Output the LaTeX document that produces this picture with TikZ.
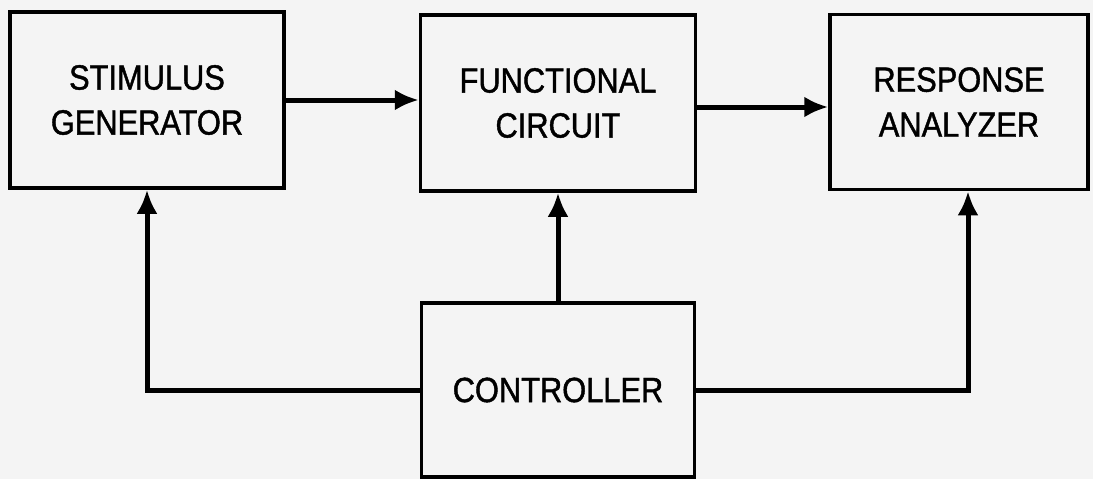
\documentclass[tikz,border=0pt]{standalone}
\usepackage{fontspec}
\setmainfont[FakeStretch=0.88, FakeBold=1.2]{Liberation Sans}
\usetikzlibrary{arrows.meta, calc, positioning}
\definecolor{paper}{RGB}{244,244,244}
\tikzset{
    block/.style={draw, line width=3.5pt, inner sep=0pt, align=center, font=\fontsize{35}{45}\selectfont},
    link/.style={line width=5pt, -{Latex[length=24pt,width=21pt]}}
}

\begin{document}
\begin{tikzpicture}[x=1pt, y=-1pt]
    % Fix the page to the size of the scan
    \fill[paper] (0,0) rectangle (1093,479);
    \useasboundingbox (0,0) rectangle (1093,479);
    % Draw the three blocks of the test chain
    \node[block, minimum width=274pt, minimum height=176pt] (stim) at (147,100) {STIMULUS\\GENERATOR};
    \node[block, minimum width=275pt, minimum height=176pt] (func) at (558,103) {FUNCTIONAL\\CIRCUIT};
    \node[block, minimum width=258pt, minimum height=175pt] (resp) at (959,102) {RESPONSE\\ANALYZER};
    % Draw the controller below the middle block
    \node[block, minimum width=273pt, minimum height=174pt] (ctrl) at (558,390) {CONTROLLER};
    % Signal path from left to right
    \draw[link] (stim.east) -- (stim.east -| func.west);
    \draw[link] ($(func.east)+(0,4)$) -- ($(func.east -| resp.west)+(0,4)$);
    % Control lines from the controller
    \coordinate (rtap) at ([xshift=9pt]resp.south);
    \draw[link] (ctrl.north) -- (ctrl.north |- func.south);
    \draw[link] (ctrl.west) -| (stim.south);
    \draw[link] (ctrl.east) -| (rtap);
\end{tikzpicture}
\end{document}
